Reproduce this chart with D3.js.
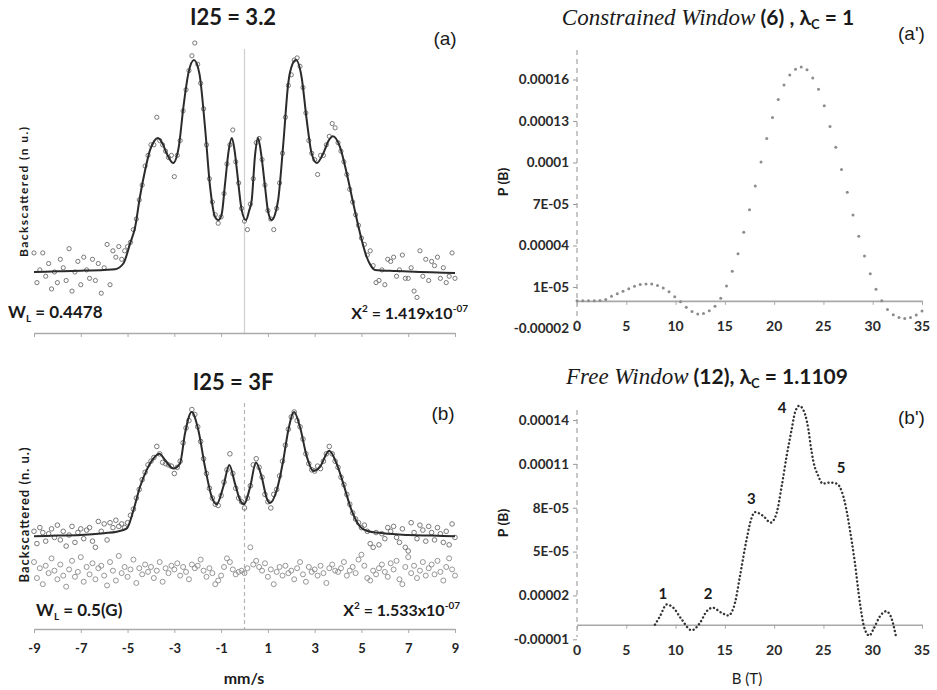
<!DOCTYPE html>
<html>
<head>
<meta charset="utf-8">
<script src="https://cdn.jsdelivr.net/npm/d3@7"></script>
<style>
body { margin: 0; background: #fff; }
svg { display: block; }
text { font-family: Lato, "Open Sans", sans-serif; }
</style>
</head>
<body>
<div id="chart-area"></div>
<script>
/*
*    mossbauer spectra + field distributions
*/

// ---- left panels: velocity (mm/s), normalized counts ----
var velTicks = [-9, -7, -5, -3, -1, 1, 3, 5, 7, 9]

// fitted curve (a)
var fitAx = [-9, -8, -7, -6, -5.53, -5.18, -4.89, -4.68, -4.47, -4.25, -4.04, -3.85, -3.70, -3.50, -3.33, -3.05,
	-2.81, -2.61, -2.40, -2.16, -1.93, -1.69, -1.47, -1.26, -1.12, -0.98, -0.83, -0.68, -0.54, -0.42, -0.31, -0.12,
	0.06, 0.20, 0.31, 0.45, 0.58, 0.72, 0.88, 1.0, 1.16, 1.30, 1.44, 1.66, 1.87, 2.05, 2.20, 2.44, 2.66, 2.87,
	3.09, 3.37, 3.60, 3.78, 4.08, 4.37, 4.65, 4.94, 5.22, 5.40, 5.58, 6.5, 7.5, 8.5, 9]
var fitAy = [0, 0.003, 0.006, 0.01, 0.013, 0.04, 0.135, 0.21, 0.355, 0.48, 0.575, 0.62, 0.632, 0.605, 0.56, 0.514,
	0.59, 0.78, 0.937, 1.0, 0.937, 0.685, 0.40, 0.26, 0.245, 0.27, 0.418, 0.57, 0.632, 0.57, 0.466, 0.292,
	0.245, 0.29, 0.34, 0.55, 0.632, 0.55, 0.40, 0.29, 0.245, 0.27, 0.34, 0.607, 0.89, 0.98, 1.0, 0.92, 0.717, 0.56,
	0.514, 0.56, 0.62, 0.64, 0.59, 0.466, 0.324, 0.183, 0.072, 0.03, 0.01, 0.005, 0, -0.003, -0.005]

// fitted curve (b)
var fitBx = [-9, -8, -7, -6, -5.46, -5.03, -4.75, -4.47, -4.18, -3.9, -3.64, -3.4, -3.04, -2.76, -2.54, -2.26,
	-1.97, -1.69, -1.4, -1.19, -0.91, -0.65, -0.41, -0.19, -0.02, 0.24, 0.49, 0.73, 0.95, 1.09, 1.38, 1.66,
	1.87, 2.12, 2.37, 2.66, 2.94, 3.23, 3.62, 3.94, 4.22, 4.58, 4.94, 5.22, 5.93, 7, 8, 9]
var fitBy = [-0.01, -0.005, 0, 0.015, 0.027, 0.054, 0.2, 0.39, 0.53, 0.62, 0.66, 0.61, 0.54, 0.58, 0.83, 1.0,
	0.85, 0.555, 0.31, 0.25, 0.39, 0.57, 0.42, 0.285, 0.25, 0.39, 0.59, 0.475, 0.3, 0.26, 0.366, 0.61,
	0.85, 1.0, 0.88, 0.64, 0.52, 0.555, 0.685, 0.58, 0.42, 0.2, 0.068, 0.035, 0.014, 0, -0.005, -0.01]

// measured points, one per channel (-9 .. 9, 8 channels per mm/s)
var ptsA = [
	0.09, -0.05, 0.01, 0.09, -0.02, 0.04, -0.08, 0.00,
	-0.05, 0.06, 0.02, -0.04, 0.11, -0.09, 0.00, 0.05,
	-0.06, 0.07, 0.01, -0.03, 0.06, -0.04, 0.04, -0.10,
	0.02, 0.13, -0.06, 0.10, 0.07, 0.12, 0.06, 0.10,
	0.12, 0.14, 0.20, 0.25, 0.34, 0.41, 0.50, 0.55,
	0.60, 0.60, 0.73, 0.62, 0.60, 0.57, 0.54, 0.55,
	0.45, 0.55, 0.62, 0.76, 0.86, 0.95, 1.02, 1.08,
	0.98, 0.89, 0.77, 0.60, 0.44, 0.33, 0.27, 0.23,
	0.26, 0.37, 0.51, 0.60, 0.67, 0.52, 0.42, 0.30,
	0.24, 0.20, 0.32, 0.44, 0.61, 0.63, 0.53, 0.41,
	0.29, 0.25, 0.20, 0.30, 0.42, 0.56, 0.73, 0.88,
	0.93, 1.00, 1.01, 0.97, 0.87, 0.75, 0.62, 0.56,
	0.53, 0.46, 0.55, 0.55, 0.60, 0.64, 0.70, 0.68,
	0.61, 0.57, 0.52, 0.46, 0.39, 0.33, 0.27, 0.22,
	0.16, 0.13, 0.08, 0.10, 0.03, -0.05, -0.04, 0.01,
	-0.06, 0.06, 0.05, 0.07, -0.02, 0.01, 0.08, -0.03,
	-0.03, 0.02, -0.09, -0.12, 0.10, -0.02, 0.06, -0.04,
	0.05, 0.03, 0.07, -0.03, 0.02, -0.05, -0.02, 0.09,
	-0.03]

var ptsB = [
	0.03, -0.07, 0.06, 0.02, -0.05, 0.01, 0.05, -0.02,
	0.08, -0.04, 0.03, -0.09, 0.00, 0.07, -0.06, 0.02,
	0.05, -0.03, 0.04, 0.06, -0.05, -0.10, 0.11, 0.03,
	0.09, -0.04, 0.10, 0.06, 0.12, 0.07, 0.09, 0.06,
	0.10, 0.16, 0.21, 0.30, 0.37, 0.45, 0.51, 0.57,
	0.60, 0.63, 0.72, 0.66, 0.59, 0.58, 0.57, 0.56,
	0.50, 0.55, 0.60, 0.75, 0.87, 0.93, 1.02, 0.98,
	0.88, 0.76, 0.62, 0.50, 0.38, 0.30, 0.25, 0.24,
	0.32, 0.43, 0.53, 0.66, 0.50, 0.38, 0.30, 0.27,
	0.22, 0.30, 0.40, 0.57, 0.62, 0.55, 0.47, 0.33,
	0.27, 0.22, 0.33, 0.37, 0.48, 0.60, 0.73, 0.86,
	0.96, 1.00, 0.93, 0.88, 0.78, 0.66, 0.58, 0.53,
	0.52, 0.56, 0.54, 0.60, 0.66, 0.72, 0.66, 0.60,
	0.55, 0.47, 0.41, 0.33, 0.25, 0.18, 0.13, 0.10,
	0.06, 0.08, 0.03, -0.07, -0.10, 0.02, -0.08, 0.01,
	-0.03, 0.06, 0.03, 0.07, -0.02, -0.06, 0.05, -0.10,
	-0.13, 0.10, 0.02, -0.03, 0.08, 0.04, -0.05, 0.07,
	0.02, -0.04, 0.06, 0.01, -0.06, 0.03, -0.08, 0.09,
	-0.02]

// residuals of fit (b), drawn under the spectrum
var resB = [
	-0.22, -0.35, -0.27, -0.40, -0.25, -0.31, -0.19, -0.29,
	-0.36, -0.24, -0.33, -0.42, -0.28, -0.21, -0.34, -0.30,
	-0.18, -0.38, -0.26, -0.32, -0.23, -0.36, -0.27, -0.25,
	-0.33, -0.41, -0.22, -0.29, -0.37, -0.17, -0.31, -0.26,
	-0.34, -0.28, -0.20, -0.39, -0.27, -0.32, -0.24, -0.30,
	-0.26, -0.35, -0.29, -0.22, -0.38, -0.27, -0.31, -0.25,
	-0.28, -0.23, -0.33, -0.26, -0.30, -0.36, -0.24, -0.27,
	-0.25, -0.20, -0.29, -0.34, -0.27, -0.31, -0.40, -0.37,
	-0.33, -0.26, -0.19, -0.22, -0.28, -0.32, -0.30, -0.29,
	-0.31, -0.27, -0.10, -0.24, -0.21, -0.26, -0.29, -0.23,
	-0.34, -0.28, -0.40, -0.30, -0.26, -0.33, -0.25, -0.31,
	-0.29, -0.36, -0.27, -0.22, -0.32, -0.38, -0.26, -0.30,
	-0.28, -0.33, -0.25, -0.31, -0.39, -0.27, -0.24, -0.29,
	-0.30, -0.27, -0.22, -0.33, -0.29, -0.26, -0.31, -0.20,
	-0.16, -0.25, -0.35, -0.37, -0.29, -0.32, -0.27, -0.24,
	-0.30, -0.34, -0.23, -0.28, -0.21, -0.36, -0.40, -0.26,
	-0.18, -0.31, -0.25, -0.35, -0.29, -0.22, -0.33, -0.27,
	-0.24, -0.32, -0.21, -0.30, -0.37, -0.26, -0.19, -0.28,
	-0.33]

// ---- right panels: hyperfine field B (T), P(B) in units of 1e-5 ----
var bTicks = [0, 5, 10, 15, 20, 25, 30, 35]
var pTicksCon = [-2, 1, 4, 7, 10, 13, 16]
var pLabelsCon = ["-0.00002", "1E-05", "0.00004", "7E-05", "0.0001", "0.00013", "0.00016"]
var pTicksFree = [-1, 2, 5, 8, 11, 14]
var pLabelsFree = ["-0.00001", "0.00002", "5E-05", "8E-05", "0.00011", "0.00014"]

// constrained window, 61 points from 0 to 35 T
var pCon = [0, 0, 0, 0, 0.03, 0.1, 0.34, 0.52, 0.70, 0.88, 1.06, 1.18, 1.21, 1.21, 1.11, 0.93,
	0.65, 0.3, -0.06, -0.46, -0.77, -0.95, -0.92, -0.72, -0.40, 0.18, 1.08, 2.13, 3.4, 4.95, 6.58, 8.3,
	10.03, 11.74, 13.26, 14.55, 15.6, 16.33, 16.75, 16.9, 16.7, 16.1, 15.3, 14.1, 12.6, 11.1, 9.5, 7.85,
	6.2, 4.66, 3.25, 1.95, 0.83, 0.0, -0.62, -1.0, -1.2, -1.27, -1.2, -1.02, -0.74]

// free window curve
var bFree = [7.91, 8.42, 9.1, 9.77, 10.62, 11.63, 12.48, 13.16, 13.76, 14.68, 15.35, 16.03, 16.53, 17.21, 17.72,
	18.06, 18.9, 19.65, 20.26, 20.77, 21.27, 21.78, 22.11, 22.55, 23.13, 23.47, 23.71, 23.97, 24.48, 24.93,
	25.67, 26.34, 26.84, 27.18, 27.68, 28.19, 28.7, 29.2, 29.66, 30.06, 30.74, 31.35, 31.82, 32.36]
var pFree = [0, 0.58, 1.38, 1.16, 0.36, -0.38, 0.13, 0.92, 1.16, 0.81, 0.63, 1.5, 3.32, 5.84, 7.32,
	7.7, 7.43, 6.98, 7.66, 9.49, 11.54, 13.37, 14.5, 14.97, 14.4, 13.37, 12.23, 11.2, 10.17, 9.65,
	9.72, 9.65, 9.15, 8.35, 6.52, 4.24, 1.5, -0.33, -0.74, -0.33, 0.58, 0.92, 0.58, -0.79]

var peakNames = ["1", "2", "3", "4", "5"]
var peakB = [8.7, 13.3, 17.7, 20.8, 26.8]
var peakP = [2.1, 2.1, 8.6, 14.8, 10.7]

// ---------------------------------------------------------------

var width = 937
var height = 690

var svg = d3.select("#chart-area").append("svg")
.attr("width", width)
.attr("height", height)

svg.append("rect").attr("width", width).attr("height", height).attr("fill", "#fff")

var x = d3.scaleLinear().domain([-9, 9]).range([34, 455])
var yA = d3.scaleLinear().domain([0, 1]).range([272, 60])
var yB = d3.scaleLinear().domain([0, 1]).range([535, 412])

var xR = d3.scaleLinear().domain([0, 35]).range([577, 922])
var yCon = d3.scaleLinear().domain([-2, 16]).range([328.5, 79.5])
var yFree = d3.scaleLinear().domain([-1, 14]).range([639.3, 420])

var vel = d3.range(ptsA.length).map(i => -9 + i * 0.125)
var bCon = d3.range(pCon.length).map(i => i * 35 / (pCon.length - 1))

// text with sub/superscripts
function richText(sel, px, py, anchor, parts) {
	var t = sel.append("text")
	.attr("x", px)
	.attr("y", py)
	.attr("text-anchor", anchor)
	.style("fill", "#1a1a1a")
	parts.forEach(p => {
		t.append("tspan")
		.attr("dy", p.dy || 0)
		.attr("font-size", p.size + "px")
		.attr("font-weight", p.weight || "bold")
		.attr("font-style", p.italic ? "italic" : "normal")
		.style("font-family", p.family || null)
		.text(p.t)
	})
	return t
}

// ---------------- panel (a) ----------------
var gA = svg.append("g")

gA.append("line")
.attr("x1", x(0)).attr("x2", x(0))
.attr("y1", 49).attr("y2", 333)
.attr("stroke", "#cfcfcf").attr("stroke-width", 1.2)

var axA = gA.append("g")
.attr("transform", "translate(0,333)")
.call(d3.axisBottom(x).tickValues(velTicks).tickSize(4).tickSizeOuter(0).tickFormat(""))
axA.select(".domain").attr("stroke", "#aaa").attr("stroke-width", 1.3)
axA.selectAll(".tick line").attr("stroke", "#aaa")

gA.selectAll("circle.pt")
.data(ptsA)
.enter().append("circle")
.attr("class", "pt")
.attr("cx", (d, i) => x(vel[i]))
.attr("cy", d => yA(d))
.attr("r", 2.1)
.attr("fill", "none")
.attr("stroke", "#6a6a6a")
.attr("stroke-width", 0.9)

var lineA = d3.line()
.x(d => x(d[0]))
.y(d => yA(d[1]))
.curve(d3.curveMonotoneX)

gA.append("path")
.attr("d", lineA(d3.zip(fitAx, fitAy)))
.attr("fill", "none")
.attr("stroke", "#2b2b2b")
.attr("stroke-width", 2)

richText(gA, 233, 25, "middle", [{t: "I25 = 3.2", size: 22}])
richText(gA, 445, 45, "middle", [{t: "(a)", size: 19, weight: "normal", family: "Liberation Sans"}])

gA.append("text")
.attr("transform", "translate(28,192) rotate(-90)")
.attr("text-anchor", "middle")
.attr("font-size", "12px")
.attr("font-weight", "bold")
.attr("textLength", 130)
.style("fill", "#1a1a1a")
.text("Backscattered (n u.)")

richText(gA, 8, 318, "start", [
	{t: "W", size: 17}, {t: "L", size: 10, dy: 4}, {t: " =  0.4478", size: 17, dy: -4}])
richText(gA, 468, 319, "end", [
	{t: "X", size: 16}, {t: "2", size: 10, dy: -7}, {t: " = 1.419x10", size: 16, dy: 7},
	{t: "-07", size: 10, dy: -7}])

// ---------------- panel (b) ----------------
var gB = svg.append("g")

gB.append("line")
.attr("x1", x(0)).attr("x2", x(0))
.attr("y1", 403).attr("y2", 629)
.attr("stroke", "#b5b5b5").attr("stroke-width", 1.2)
.attr("stroke-dasharray", "4,3")

var axB = gB.append("g")
.attr("transform", "translate(0,629)")
.call(d3.axisBottom(x).tickValues(velTicks).tickSize(4).tickSizeOuter(0).tickPadding(11)
	.tickFormat(d => String(d)))
axB.select(".domain").attr("stroke", "#aaa").attr("stroke-width", 1.3)
axB.selectAll(".tick line").attr("stroke", "#aaa")
axB.selectAll(".tick text")
.attr("font-size", "13px")
.attr("font-weight", "bold")
.attr("font-family", "Lato")
.style("fill", "#222")

gB.selectAll("circle.res")
.data(resB)
.enter().append("circle")
.attr("class", "res")
.attr("cx", (d, i) => x(vel[i]))
.attr("cy", d => yB(d))
.attr("r", 2.5)
.attr("fill", "none")
.attr("stroke", "#8a8a8a")
.attr("stroke-width", 0.9)

gB.selectAll("circle.pt")
.data(ptsB)
.enter().append("circle")
.attr("class", "pt")
.attr("cx", (d, i) => x(vel[i]))
.attr("cy", d => yB(d))
.attr("r", 2.3)
.attr("fill", "none")
.attr("stroke", "#6a6a6a")
.attr("stroke-width", 0.9)

var lineB = d3.line()
.x(d => x(d[0]))
.y(d => yB(d[1]))
.curve(d3.curveMonotoneX)

gB.append("path")
.attr("d", lineB(d3.zip(fitBx, fitBy)))
.attr("fill", "none")
.attr("stroke", "#2b2b2b")
.attr("stroke-width", 2)

richText(gB, 233, 390, "middle", [{t: "I25 = 3F", size: 22}])
richText(gB, 443, 420, "middle", [{t: "(b)", size: 19, weight: "normal", family: "Liberation Sans"}])

gB.append("text")
.attr("transform", "translate(29,515) rotate(-90)")
.attr("text-anchor", "middle")
.attr("font-size", "13px")
.attr("font-weight", "bold")
.attr("textLength", 135)
.style("fill", "#1a1a1a")
.text("Backscattered (n. u.)")

richText(gB, 36, 616, "start", [
	{t: "W", size: 17}, {t: "L", size: 10, dy: 4}, {t: " = 0.5(G)", size: 17, dy: -4}])
richText(gB, 460, 616, "end", [
	{t: "X", size: 16}, {t: "2", size: 10, dy: -7}, {t: " = 1.533x10", size: 16, dy: 7},
	{t: "-07", size: 10, dy: -7}])

richText(gB, 244, 684, "middle", [{t: "mm/s", size: 16}])

// ---------------- right panels ----------------
function rightFrame(g, y, yTop, yBot, ticks, labels, labelY) {
	// dashed vertical axis
	g.append("line")
	.attr("x1", xR(0)).attr("x2", xR(0))
	.attr("y1", yTop).attr("y2", yBot)
	.attr("stroke", "#9a9a9a").attr("stroke-width", 1.1)
	.attr("stroke-dasharray", "5,4")

	var ay = g.append("g")
	.attr("transform", "translate(" + xR(0) + ",0)")
	.call(d3.axisLeft(y).tickValues(ticks).tickSize(4).tickPadding(4)
		.tickFormat((d, i) => labels[i]))
	ay.select(".domain").remove()
	ay.selectAll(".tick line").attr("stroke", "#9a9a9a")
	ay.selectAll(".tick text")
	.attr("font-size", "13.5px")
	.attr("font-weight", "bold")
	.attr("font-family", "Lato")
	.style("fill", "#2a2a2a")

	// zero line with B ticks
	var ax = g.append("g")
	.attr("transform", "translate(0," + y(0) + ")")
	.call(d3.axisBottom(xR).tickValues(bTicks).tickSize(4).tickSizeOuter(0).tickFormat(""))
	ax.select(".domain").attr("stroke", "#a8a8a8").attr("stroke-width", 1.6)
	ax.selectAll(".tick line").attr("stroke", "#a8a8a8")

	// B labels sit at the bottom of the frame
	g.selectAll("text.bl")
	.data(bTicks)
	.enter().append("text")
	.attr("class", "bl")
	.attr("x", d => xR(d))
	.attr("y", labelY)
	.attr("text-anchor", "middle")
	.attr("font-size", "14px")
	.attr("font-weight", "bold")
	.style("fill", "#2a2a2a")
	.text(d => d)
}

// (a')
var gC = svg.append("g")
rightFrame(gC, yCon, 50, 322, pTicksCon, pLabelsCon, 331)

gC.selectAll("circle.dot")
.data(pCon)
.enter().append("circle")
.attr("class", "dot")
.attr("cx", (d, i) => xR(bCon[i]))
.attr("cy", d => yCon(d))
.attr("r", 1.5)
.attr("fill", "#8c8c8c")

richText(gC, 708, 25, "middle", [
	{t: "Constrained Window", size: 23, italic: true, weight: "normal", family: "Liberation Serif"},
	{t: " (6) , λ", size: 21}, {t: "C", size: 13, dy: 4}, {t: " = 1", size: 21, dy: -4}])
richText(gC, 898, 40, "start", [{t: "(a')", size: 19, weight: "normal", family: "Liberation Sans"}])

gC.append("text")
.attr("transform", "translate(508,182) rotate(-90)")
.attr("text-anchor", "middle")
.attr("font-size", "14px")
.attr("font-weight", "bold")
.style("fill", "#1a1a1a")
.text("P (B)")

// (b')
var gF = svg.append("g")
rightFrame(gF, yFree, 410, 637, pTicksFree, pLabelsFree, 655)

var lineF = d3.line()
.x(d => xR(d[0]))
.y(d => yFree(d[1]))
.curve(d3.curveMonotoneX)

gF.append("path")
.attr("d", lineF(d3.zip(bFree, pFree)))
.attr("fill", "none")
.attr("stroke", "#333")
.attr("stroke-width", 2.4)
.attr("stroke-linecap", "round")
.attr("stroke-dasharray", "0.1,3.8")

gF.selectAll("text.pk")
.data(peakNames)
.enter().append("text")
.attr("class", "pk")
.attr("x", (d, i) => xR(peakB[i]))
.attr("y", (d, i) => yFree(peakP[i]) + 5)
.attr("text-anchor", "middle")
.attr("font-size", "15px")
.attr("font-weight", "bold")
.style("fill", "#1a1a1a")
.text(d => d)

richText(gF, 707, 384, "middle", [
	{t: "Free Window", size: 23, italic: true, weight: "normal", family: "Liberation Serif"},
	{t: " (12), λ", size: 21}, {t: "C", size: 13, dy: 4}, {t: " = 1.1109", size: 21, dy: -4}])
richText(gF, 898, 424, "start", [{t: "(b')", size: 19, weight: "normal", family: "Liberation Sans"}])

gF.append("text")
.attr("transform", "translate(508,523) rotate(-90)")
.attr("text-anchor", "middle")
.attr("font-size", "14px")
.attr("font-weight", "bold")
.style("fill", "#1a1a1a")
.text("P (B)")

richText(gF, 747, 684, "middle", [{t: "B (T)", size: 15, weight: "normal"}])
</script>
</body>
</html>
